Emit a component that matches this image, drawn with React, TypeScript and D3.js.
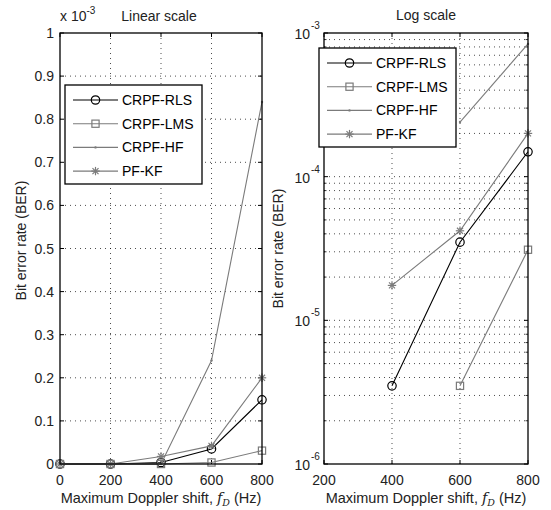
import React from "react";
import * as d3 from "d3";

// Doppler shift (Hz) and BER per algorithm
const dopplerHz = [0, 200, 400, 600, 800];
const berRLS = [0, 0, 3.5e-6, 3.5e-5, 1.49e-4];
const berLMS = [0, 0, 0, 3.5e-6, 3.1e-5];
const berHF = [0, 0, 0, 2.4e-4, 8.4e-4];
const berPFKF = [0, 0, 1.75e-5, 4.2e-5, 2.0e-4];
const seriesNames = ["CRPF-RLS", "CRPF-LMS", "CRPF-HF", "PF-KF"];

const linTicksY = [0, 0.1, 0.2, 0.3, 0.4, 0.5, 0.6, 0.7, 0.8, 0.9, 1];
const linTicksX = [0, 200, 400, 600, 800];
const logTicksX = [200, 400, 600, 800];
const logDecades = [-6, -5, -4, -3];

const FONT = "'Liberation Sans', Arial, Helvetica, sans-serif";
const GRAY = "#7b7b7b";

const series = [
  { name: seriesNames[0], values: berRLS, color: "#000", marker: "circle" },
  { name: seriesNames[1], values: berLMS, color: GRAY, marker: "square" },
  { name: seriesNames[2], values: berHF, color: GRAY, marker: "dot" },
  { name: seriesNames[3], values: berPFKF, color: GRAY, marker: "star" },
];

function Marker({ kind, x, y, color }: { kind: string; x: number; y: number; color: string }) {
  if (kind === "circle") return <circle cx={x} cy={y} r={4.2} fill="none" stroke={color} strokeWidth={1.2} />;
  if (kind === "square") return <rect x={x - 3.6} y={y - 3.6} width={7.2} height={7.2} fill="none" stroke={color} strokeWidth={1.2} />;
  if (kind === "dot") return <circle cx={x} cy={y} r={1.2} fill={color} />;
  const s = 4.2;
  const d = s * 0.72;
  return (
    <g stroke={color} strokeWidth={1.2}>
      <line x1={x - s} y1={y} x2={x + s} y2={y} />
      <line x1={x} y1={y - s} x2={x} y2={y + s} />
      <line x1={x - d} y1={y - d} x2={x + d} y2={y + d} />
      <line x1={x - d} y1={y + d} x2={x + d} y2={y - d} />
    </g>
  );
}

function Legend({ x, y }: { x: number; y: number }) {
  const w = 137;
  const h = 99;
  return (
    <g>
      <rect x={x} y={y} width={w} height={h} fill="#fff" stroke="#000" strokeWidth={1.3} />
      {series.map((s, i) => {
        const cy = y + 15 + i * 23.7;
        return (
          <g key={s.name}>
            <line x1={x + 8} x2={x + 53} y1={cy} y2={cy} stroke={s.color} strokeWidth={1.1} />
            <Marker kind={s.marker} x={x + 30.5} y={cy} color={s.color} />
            <text x={x + 57} y={cy + 5} fontSize={14} fontFamily={FONT}>{s.name}</text>
          </g>
        );
      })}
    </g>
  );
}

function XLabel({ cx, y }: { cx: number; y: number }) {
  return (
    <text x={cx} y={y} textAnchor="middle" fontSize={14.5} fontFamily={FONT} fill="#222">
      Maximum Doppler shift,{" "}
      <tspan fontFamily="'DejaVu Serif', 'Liberation Serif', serif" fontStyle="italic">f</tspan>
      <tspan fontFamily="'DejaVu Serif', 'Liberation Serif', serif" fontStyle="italic" fontSize={9.5} dy={3}>D</tspan>
      <tspan dy={-3}>{"  "}(Hz)</tspan>
    </text>
  );
}

function LinearPanel() {
  const left = 60, right = 262, top = 33, bottom = 464;
  const x = d3.scaleLinear().domain([0, 800]).range([left, right]);
  const y = d3.scaleLinear().domain([0, 1e-3]).range([bottom, top]);
  const line = d3.line<number>().x((_, i) => x(dopplerHz[i])).y((d) => y(d));
  return (
    <g>
      {linTicksX.slice(1, -1).map((t) => (
        <line key={"gx" + t} x1={x(t)} x2={x(t)} y1={top} y2={bottom} stroke="#000" strokeWidth={0.7} strokeDasharray="1 4" />
      ))}
      {linTicksY.slice(1, -1).map((t) => (
        <line key={"gy" + t} x1={left} x2={right} y1={y(t * 1e-3)} y2={y(t * 1e-3)} stroke="#000" strokeWidth={0.7} strokeDasharray="1 4" />
      ))}
      {linTicksX.map((t) => (
        <g key={"tx" + t}>
          <line x1={x(t)} x2={x(t)} y1={bottom} y2={bottom - 4} stroke="#000" />
          <line x1={x(t)} x2={x(t)} y1={top} y2={top + 4} stroke="#000" />
          <text x={x(t)} y={bottom + 21} textAnchor="middle" fontSize={14} fontFamily={FONT} fill="#222">{t}</text>
        </g>
      ))}
      {linTicksY.map((t) => (
        <g key={"ty" + t}>
          <line x1={left} x2={left + 4} y1={y(t * 1e-3)} y2={y(t * 1e-3)} stroke="#000" />
          <line x1={right} x2={right - 4} y1={y(t * 1e-3)} y2={y(t * 1e-3)} stroke="#000" />
          <text x={left - 6} y={y(t * 1e-3) + 5} textAnchor="end" fontSize={14} fontFamily={FONT} fill="#222">{t}</text>
        </g>
      ))}
      {series.map((s) => (
        <g key={s.name}>
          <path d={line(s.values) || ""} fill="none" stroke={s.color} strokeWidth={1.1} />
          {s.values.map((v, i) => (
            <Marker key={i} kind={s.marker} x={x(dopplerHz[i])} y={y(v)} color={s.color} />
          ))}
        </g>
      ))}
      <rect x={left} y={top} width={right - left} height={bottom - top} fill="none" stroke="#000" strokeWidth={1.3} />
      <text x={60} y={21} fontSize={14} fontFamily={FONT} fill="#222">
        x 10<tspan fontSize={10} dy={-7}>-3</tspan>
      </text>
      <text x={159} y={21} textAnchor="middle" fontSize={14} fontFamily={FONT} fill="#222">Linear scale</text>
      <text transform={`translate(26,${(top + bottom) / 2 - 8}) rotate(-90)`} textAnchor="middle" fontSize={14} fontFamily={FONT} fill="#222">Bit error rate (BER)</text>
      <XLabel cx={(left + right) / 2} y={503} />
      <Legend x={65} y={85} />
    </g>
  );
}

function LogPanel() {
  const left = 324, right = 528, top = 33, bottom = 464;
  const x = d3.scaleLinear().domain([200, 800]).range([left, right]);
  const y = d3.scaleLog().domain([1e-6, 1e-3]).range([bottom, top]);
  const minor: number[] = [];
  logDecades.slice(0, -1).forEach((e) => {
    for (let m = 2; m <= 9; m++) minor.push(m * Math.pow(10, e));
  });
  const line = d3
    .line<{ hz: number; v: number }>()
    .x((d) => x(d.hz))
    .y((d) => y(d.v));
  return (
    <g>
      {logTicksX.slice(1, -1).map((t) => (
        <line key={"gx" + t} x1={x(t)} x2={x(t)} y1={top} y2={bottom} stroke="#000" strokeWidth={0.7} strokeDasharray="1 4" />
      ))}
      {[...minor, 1e-5, 1e-4].map((t) => (
        <line key={"gy" + t} x1={left} x2={right} y1={y(t)} y2={y(t)} stroke="#000" strokeWidth={0.7} strokeDasharray="1 4" />
      ))}
      {minor.map((t) => (
        <g key={"my" + t}>
          <line x1={left} x2={left + 2.5} y1={y(t)} y2={y(t)} stroke="#000" strokeWidth={0.8} />
          <line x1={right} x2={right - 2.5} y1={y(t)} y2={y(t)} stroke="#000" strokeWidth={0.8} />
        </g>
      ))}
      {logTicksX.map((t) => (
        <g key={"tx" + t}>
          <line x1={x(t)} x2={x(t)} y1={bottom} y2={bottom - 4} stroke="#000" />
          <line x1={x(t)} x2={x(t)} y1={top} y2={top + 4} stroke="#000" />
          <text x={x(t)} y={bottom + 21} textAnchor="middle" fontSize={14} fontFamily={FONT} fill="#222">{t}</text>
        </g>
      ))}
      {logDecades.map((e) => {
        const v = Math.pow(10, e);
        return (
          <g key={"ty" + e}>
            <line x1={left} x2={left + 4} y1={y(v)} y2={y(v)} stroke="#000" />
            <line x1={right} x2={right - 4} y1={y(v)} y2={y(v)} stroke="#000" />
            <text x={left - 14} y={y(v) + 6} textAnchor="end" fontSize={14} fontFamily={FONT} fill="#222">10</text>
            <text x={left - 13} y={y(v) - 4} fontSize={10} fontFamily={FONT} fill="#222">{e}</text>
          </g>
        );
      })}
      {series.map((s) => {
        const pts = s.values.map((v, i) => ({ hz: dopplerHz[i], v })).filter((p) => p.v > 0 && p.hz >= 200);
        return (
          <g key={s.name}>
            <path d={line(pts) || ""} fill="none" stroke={s.color} strokeWidth={1.1} />
            {pts.map((p, i) => (
              <Marker key={i} kind={s.marker} x={x(p.hz)} y={y(p.v)} color={s.color} />
            ))}
          </g>
        );
      })}
      <rect x={left} y={top} width={right - left} height={bottom - top} fill="none" stroke="#000" strokeWidth={1.3} />
      <text x={426} y={20} textAnchor="middle" fontSize={14} fontFamily={FONT} fill="#222">Log scale</text>
      <text transform={`translate(283,${(top + bottom) / 2}) rotate(-90)`} textAnchor="middle" fontSize={14} fontFamily={FONT} fill="#222">Bit error rate (BER)</text>
      <XLabel cx={(left + right) / 2} y={503} />
      <Legend x={319} y={48} />
    </g>
  );
}

export default function App() {
  return (
    <svg width={551} height={510} style={{ position: "absolute", left: 0, top: 0, background: "#fff" }}>
      <rect width={551} height={510} fill="#fff" />
      <LinearPanel />
      <LogPanel />
    </svg>
  );
}
